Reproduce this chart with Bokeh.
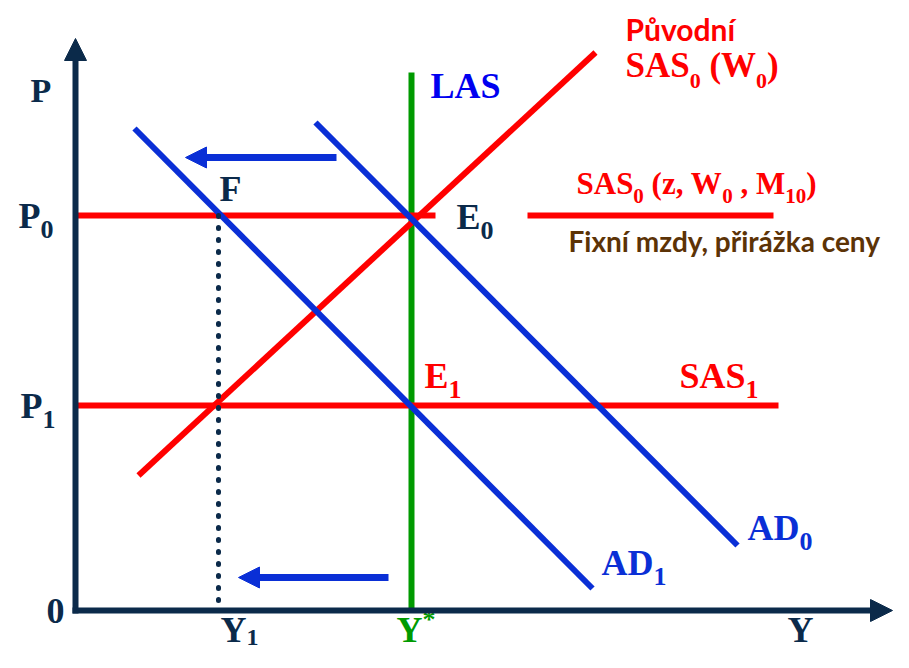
from bokeh.plotting import figure
from bokeh.models import Range1d, Arrow, NormalHead
from bokeh.core.properties import value
from bokeh.embed import file_html
from bokeh.resources import INLINE

# ---- data (economic units: origin at 0,0) ----
Y_STAR = 336          # potential output (LAS)
Y_1 = 143             # output at F
P_0 = 395             # initial price level
P_1 = 205             # new price level

las_x = [Y_STAR, Y_STAR]
las_y = [2, 538]

sas_orig_x = [63, 520]
sas_orig_y = [135, 558]

sas0_a_x = [0, 360]
sas0_b_x = [452, 698]
sas1_x = [0, 703]

ad0_x = [240, 662]
ad0_y = [488, 65]
ad1_x = [59, 517]
ad1_y = [482, 22]

dotted_x = [Y_1, Y_1]
dotted_y = [P_0, 5]

axis_x_end = 817
axis_y_end = 572

shift_top_x = [261, 110]
shift_top_y = 453
shift_bot_x = [313, 163]
shift_bot_y = 33

NAVY = "#0b2a4a"
RED = "#ff0000"
BLUE = "#0a2fd6"
LASBLUE = "#0000f0"
GREEN = "#009a00"
BROWN = "#5c3306"

OX, OY = 75, 610
W, H = 893, 652

p = figure(width=W, height=H, output_backend="svg", toolbar_location=None,
           x_range=Range1d(-OX, W - OX), y_range=Range1d(OY - H, OY),
           min_border=0, x_axis_type=None, y_axis_type=None)
p.grid.visible = False
p.outline_line_color = None
p.background_fill_color = "white"

# axes with arrowheads
p.add_layout(Arrow(end=NormalHead(size=22, fill_color=NAVY, line_color=NAVY),
                   x_start=0, y_start=-3, x_end=0, y_end=axis_y_end,
                   line_color=NAVY, line_width=6))
p.add_layout(Arrow(end=NormalHead(size=22, fill_color=NAVY, line_color=NAVY),
                   x_start=-3, y_start=0, x_end=axis_x_end, y_end=0,
                   line_color=NAVY, line_width=6))

# curves
p.line(las_x, las_y, line_color=GREEN, line_width=6)
p.line(sas_orig_x, sas_orig_y, line_color=RED, line_width=6)
p.line(sas0_a_x, [P_0, P_0], line_color=RED, line_width=6)
p.line(sas0_b_x, [P_0, P_0], line_color=RED, line_width=6)
p.line(sas1_x, [P_1, P_1], line_color=RED, line_width=6)
p.line(ad0_x, ad0_y, line_color=BLUE, line_width=6)
p.line(ad1_x, ad1_y, line_color=BLUE, line_width=6)
p.line(dotted_x, dotted_y, line_color=NAVY, line_width=5, line_dash="1 11", line_cap="round")

# shift arrows
for xs, yv in ((shift_top_x, shift_top_y), (shift_bot_x, shift_bot_y)):
    p.add_layout(Arrow(end=NormalHead(size=21, fill_color=BLUE, line_color=BLUE),
                       x_start=xs[0], y_start=yv, x_end=xs[1], y_end=yv,
                       line_color=BLUE, line_width=7))

# ---- labels ----
TB = {'S': 556, 'A': 722, 'P': 611, 'E': 667, 'D': 722, 'L': 667, 'Y': 722, 'W': 1000,
      'M': 944, 'F': 611, '0': 500, '1': 500, '(': 333, ')': 333, ',': 250, ' ': 250,
      'z': 444, '*': 500}

BASE_FIX = 0.33   # the svg text baseline sits lower than the requested one


def put(xp, yp, txt, font, fs, color):
    p.text(x=[xp - OX], y=[OY - (yp - BASE_FIX * fs)], text=[txt],
           text_font=value(font), text_font_style="bold",
           text_font_size=f"{fs}px", text_color=color,
           text_baseline="alphabetic", text_align="left")


def rich(px, py, segs, color, size=36, sub=26, drop=None):
    if drop is None:
        drop = 0.3 * size
    x = px
    for txt, kind in segs:
        if kind == "n":
            fs, y = size, py
        elif kind == "sub":
            fs, y = sub, py + drop
        else:
            fs, y = sub, py - 0.38 * size
        stripped = txt.lstrip(" ")
        x += (len(txt) - len(stripped)) * TB[' '] / 1000 * fs
        put(x, y, stripped, "Liberation Serif", fs, color)
        x += sum(TB[c] for c in stripped) / 1000 * fs


rich(30, 101, [("P", "n")], NAVY, 34)
rich(18, 227, [("P", "n"), ("0", "sub")], NAVY)
rich(20, 417, [("P", "n"), ("1", "sub")], NAVY)
rich(46, 622, [("0", "n")], NAVY)
rich(220, 641, [("Y", "n"), ("1", "sub")], NAVY, 36, 24, 4)
rich(396, 641, [("Y", "n"), ("*", "sup")], GREEN)
rich(787, 641, [("Y", "n")], NAVY)
rich(430, 97, [("LAS", "n")], LASBLUE)
rich(219, 200, [("F", "n")], NAVY)
rich(456, 228, [("E", "n"), ("0", "sub")], NAVY)
rich(424, 387, [("E", "n"), ("1", "sub")], RED)
rich(679, 387, [("SAS", "n"), ("1", "sub")], RED)
rich(747, 539, [("AD", "n"), ("0", "sub")], BLUE)
rich(601, 574, [("AD", "n"), ("1", "sub")], BLUE)
rich(625, 77, [("SAS", "n"), ("0", "sub"), (" (W", "n"), ("0", "sub"), (")", "n")], RED, 35, 22)
rich(576, 193, [("SAS", "n"), ("0", "sub"), (" (z, W", "n"), ("0", "sub"), (" , M", "n"),
                ("10", "sub"), (")", "n")], RED, 31, 21)

put(625, 38, "Původní", "Lato", 30, RED)
put(568, 250, "Fixní mzdy, přirážka ceny", "Lato", 28, BROWN)

open("out.html", "w").write(file_html(p, INLINE))
